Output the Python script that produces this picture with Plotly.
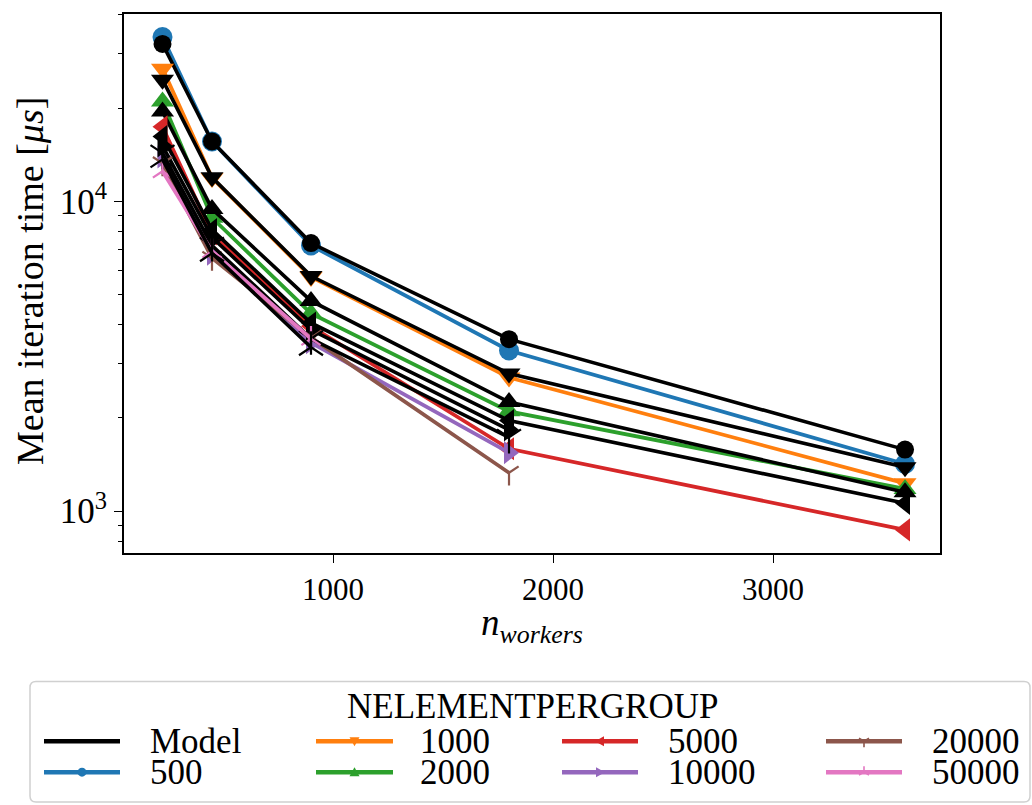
import plotly.graph_objects as go

# ---------------- data ----------------
n_workers = [225, 450, 900, 1800, 3600]
groups = ["500", "1000", "2000", "5000", "10000", "20000", "50000"]
colors = ["#1f77b4", "#ff7f0e", "#2ca02c", "#d62728", "#9467bd", "#8c564b", "#e377c2"]
symbols = ["circle", "triangle-down", "triangle-up", "triangle-left",
           "triangle-right", "y-down-open", "y-up-open"]

measured_500 = [33900, 15600, 7200, 3300, 1420]
measured_1000 = [26800, 11900, 5700, 2700, 1230]
measured_2000 = [21000, 8850, 4350, 2100, 1180]
measured_5000 = [17400, 7850, 3950, 1590, 870]
measured_10000 = [13900, 6750, 3500, 1545]
measured_20000 = [13250, 6560, 3630, 1330]
measured_50000 = [12500, 6900, 3600]

model_500 = [32200, 15600, 7330, 3590, 1580]
model_1000 = [24700, 11950, 5740, 2780, 1387]
model_2000 = [19500, 9450, 4770, 2250, 1150]
model_5000 = [16200, 8100, 4050, 1960, 1060]
model_10000 = [15100, 7650, 3850, 1830]
model_20000 = [14300, 7200, 3600, 1730]
model_50000 = [13650, 6800, 3380]

measured = [measured_500, measured_1000, measured_2000, measured_5000,
            measured_10000, measured_20000, measured_50000]
model = [model_500, model_1000, model_2000, model_5000,
         model_10000, model_20000, model_50000]

y_tick_vals = [1000, 10000]
y_tick_text = ["10<sup>3</sup>", "10<sup>4</sup>"]
y_minor_vals = [800, 900, 2000, 3000, 4000, 5000, 6000, 7000, 8000, 9000,
                20000, 30000, 40000]
x_tick_vals = [1000, 2000, 3000]

FONT = "Liberation Serif"

fig = go.Figure()
for g, col, sym, meas, mod in zip(groups, colors, symbols, measured, model):
    is_line_sym = sym.startswith("y-")
    fig.add_trace(go.Scatter(
        x=n_workers[:len(meas)], y=meas, mode="lines+markers", name=g,
        line=dict(color=col, width=3.8),
        marker=dict(symbol=sym, size=20 if not is_line_sym else 16, color=col,
                    line=dict(width=2.2 if is_line_sym else 0, color=col)),
        showlegend=False))
    fig.add_trace(go.Scatter(
        x=n_workers[:len(mod)], y=mod, mode="lines+markers", name="Model",
        line=dict(color="black", width=3.6),
        marker=dict(symbol=sym, size=20 if sym != "circle" else 18, color="black",
                    line=dict(width=2.2 if is_line_sym else 0, color="black")),
        showlegend=False))

# ---------------- layout ----------------
L, R, T, B = 124, 92, 12, 252
W, H = 1032, 805
PW, PH = W - L - R, H - T - B


def px(xp):
    return (xp - L) / PW


def py(yp):
    return 1 - (yp - T) / PH


fig.update_layout(
    width=W, height=H, margin=dict(l=L, r=R, t=T, b=B),
    plot_bgcolor="white", paper_bgcolor="white",
    font=dict(family=FONT, size=30, color="black"),
    showlegend=False,
)
fig.update_xaxes(
    range=[50, 3759], showgrid=False, zeroline=False,
    showline=True, mirror=True, linecolor="black", linewidth=1.8,
    ticks="outside", ticklen=8, tickwidth=1.4, tickcolor="black",
    tickvals=x_tick_vals, ticktext=[str(v) for v in x_tick_vals],
    tickfont=dict(family=FONT, size=31),
)
fig.update_yaxes(
    type="log", range=[2.865, 4.6045], showgrid=False, zeroline=False,
    showline=True, mirror=True, linecolor="black", linewidth=1.8,
    ticks="outside", ticklen=8, tickwidth=1.4, tickcolor="black",
    tickvals=y_tick_vals, ticktext=y_tick_text,
    tickfont=dict(family=FONT, size=35),
    minor=dict(tickvals=y_minor_vals, ticks="outside", ticklen=4.5,
               tickwidth=1.1, tickcolor="black", showgrid=False),
)

annotations = []
shapes = []

# axis titles
annotations.append(dict(
    x=px(30), y=py(280), xref="paper", yref="paper", textangle=-90,
    text="Mean iteration time [<i>μs</i>]", showarrow=False,
    font=dict(family=FONT, size=38), xanchor="center", yanchor="middle"))
annotations.append(dict(
    x=px(532), y=py(626), xref="paper", yref="paper",
    text="<i>n</i><sub><i>workers</i></sub>", showarrow=False,
    font=dict(family=FONT, size=37), xanchor="center", yanchor="middle"))

# ---------------- manual legend ----------------
bx0, bx1, by0, by1 = px(30), px(1030), py(682), py(803)
rx, ry = 6 / PW, 6 / PH
shapes.append(dict(
    type="path", xref="paper", yref="paper",
    path=(f"M {bx0+rx},{by0} L {bx1-rx},{by0} Q {bx1},{by0} {bx1},{by0-ry} "
          f"L {bx1},{by1+ry} Q {bx1},{by1} {bx1-rx},{by1} "
          f"L {bx0+rx},{by1} Q {bx0},{by1} {bx0},{by1+ry} "
          f"L {bx0},{by0-ry} Q {bx0},{by0} {bx0+rx},{by0} Z"),
    line=dict(color="#d0d0d0", width=1.5), fillcolor="rgba(255,255,255,0.8)",
    layer="above"))
annotations.append(dict(
    x=px(532), y=py(707), xref="paper", yref="paper", text="NELEMENTPERGROUP",
    showarrow=False, font=dict(family=FONT, size=35), xanchor="center",
    yanchor="middle"))

legend_entries = [("Model", "black", None)] + list(zip(groups, colors, symbols))
col_line_x = [(44, 120), (316, 393), (562, 638), (826, 902)]
col_text_x = [148, 418, 666, 930]
row_y = [742, 773]


def marker_path(sym, s=5.0):
    # pixel-relative paths (y positive = up)
    if sym == "triangle-down":
        return f"M {-s},{s*0.8} L {s},{s*0.8} L 0,{-s} Z"
    if sym == "triangle-up":
        return f"M {-s},{-s*0.8} L {s},{-s*0.8} L 0,{s} Z"
    if sym == "triangle-left":
        return f"M {s*0.8},{-s} L {s*0.8},{s} L {-s},0 Z"
    if sym == "triangle-right":
        return f"M {-s*0.8},{-s} L {-s*0.8},{s} L {s},0 Z"
    if sym == "y-down-open":
        return f"M 0,0 L 0,{-s*1.2} M 0,0 L {-s},{s*0.6} M 0,0 L {s},{s*0.6}"
    if sym == "y-up-open":
        return f"M 0,0 L 0,{s*1.2} M 0,0 L {-s},{-s*0.6} M 0,0 L {s},{-s*0.6}"
    return None


for i, (label, col, sym) in enumerate(legend_entries):
    c, r = i // 2, i % 2
    lx0, lx1 = col_line_x[c]
    yy = row_y[r]
    shapes.append(dict(type="line", xref="paper", yref="paper",
                       x0=px(lx0), x1=px(lx1), y0=py(yy), y1=py(yy),
                       line=dict(color=col, width=4.5), layer="above"))
    if sym is not None:
        cx = px((lx0 + lx1) / 2)
        cy = py(yy)
        if sym == "circle":
            shapes.append(dict(type="circle", xref="paper", yref="paper",
                               xsizemode="pixel", ysizemode="pixel",
                               xanchor=cx, yanchor=cy, x0=-4.5, x1=4.5, y0=-4.5, y1=4.5,
                               fillcolor=col, line=dict(width=0), layer="above"))
        else:
            open_sym = sym.startswith("y-")
            shapes.append(dict(type="path", xref="paper", yref="paper",
                               xsizemode="pixel", ysizemode="pixel",
                               xanchor=cx, yanchor=cy, path=marker_path(sym),
                               fillcolor=None if open_sym else col,
                               line=dict(width=1.6 if open_sym else 0, color=col),
                               layer="above"))
    annotations.append(dict(
        x=px(col_text_x[c]), y=py(yy), xref="paper", yref="paper", text=label,
        showarrow=False, font=dict(family=FONT, size=35), xanchor="left",
        yanchor="middle"))

fig.update_layout(annotations=annotations, shapes=shapes)
fig.write_html("out.html", config={"displayModeBar": False},
               post_script="document.body.style.margin='0';"
                           "document.body.style.overflow='hidden';")
